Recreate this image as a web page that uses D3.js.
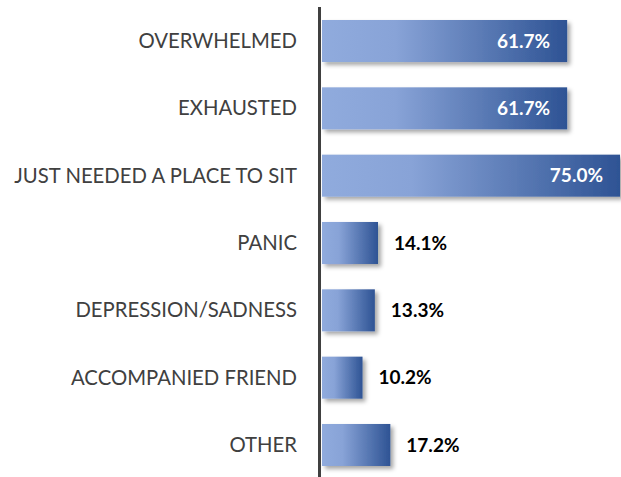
<!DOCTYPE html>
<html><head><meta charset="utf-8">
<script src="https://cdn.jsdelivr.net/npm/d3@7"></script>
<style>html,body{margin:0;padding:0;background:#fff;}svg{display:block;}</style>
</head><body>
<script>
const categories = ["OVERWHELMED", "EXHAUSTED", "JUST NEEDED A PLACE TO SIT", "PANIC", "DEPRESSION/SADNESS", "ACCOMPANIED FRIEND", "OTHER"];
const values = [61.7, 61.7, 75.0, 14.1, 13.3, 10.2, 17.2];
const valueLabels = ["61.7%", "61.7%", "75.0%", "14.1%", "13.3%", "10.2%", "17.2%"];

const W = 621, H = 477;
const svg = d3.select("body").append("svg").attr("width", W).attr("height", H);
const defs = svg.append("defs");
const grad = defs.append("linearGradient").attr("id", "g").attr("x1", "0").attr("x2", "1").attr("y1", "0").attr("y2", "0");
grad.append("stop").attr("offset", "0").attr("stop-color", "#90abdd");
grad.append("stop").attr("offset", "0.3").attr("stop-color", "#88a3d7");
grad.append("stop").attr("offset", "1").attr("stop-color", "#2e5394");
const f = defs.append("filter").attr("id", "sh").attr("x", "-10%").attr("y", "-20%").attr("width", "130%").attr("height", "160%");
f.append("feDropShadow").attr("dx", 3).attr("dy", 3).attr("stdDeviation", 2).attr("flood-color", "#000").attr("flood-opacity", 0.35);

const x0 = 322;
const x = d3.scaleLinear().domain([0, 75]).range([x0, 620]);
const y = d3.scaleBand().domain(categories).range([20, 466]).paddingInner(0.376).paddingOuter(0);

const g = svg.append("g");
g.selectAll("rect.bar").data(categories).join("rect")
  .attr("class", "bar")
  .attr("x", x0)
  .attr("y", d => y(d))
  .attr("width", (d, i) => x(values[i]) - x0)
  .attr("height", y.bandwidth())
  .attr("fill", "url(#g)")
  .attr("filter", "url(#sh)");

// axis line
svg.append("line").attr("x1", 319.5).attr("x2", 319.5).attr("y1", 7).attr("y2", H)
  .attr("stroke", "#404040").attr("stroke-width", 3);

// category labels
const labels = svg.selectAll("text.cat").data(categories).join("text")
  .attr("class", "cat")
  .attr("x", 297)
  .attr("y", d => y(d) + y.bandwidth() / 2)
  .attr("dy", "0.35em")
  .attr("text-anchor", "end")
  .attr("font-family", "Lato, 'Open Sans', sans-serif")
  .attr("font-size", 20)
  .attr("fill", "#404040")
  .text(d => d);
let maxW = 0;
labels.each(function(){ maxW = Math.max(maxW, this.getComputedTextLength()); });
const scaleF = 283 / maxW;
labels.attr("font-size", 20 * scaleF);

// value labels
svg.selectAll("text.val").data(categories).join("text")
  .attr("class", "val")
  .attr("x", (d, i) => values[i] > 40 ? x(values[i]) - 17 : x(values[i]) + 16)
  .attr("y", d => y(d) + y.bandwidth() / 2)
  .attr("dy", "0.35em")
  .attr("text-anchor", (d, i) => values[i] > 40 ? "end" : "start")
  .attr("font-family", "Lato, 'Open Sans', sans-serif")
  .attr("font-weight", "bold")
  .attr("font-size", 19)
  .attr("fill", (d, i) => values[i] > 40 ? "#ffffff" : "#000000")
  .text((d, i) => valueLabels[i]);
</script>
</body></html>
